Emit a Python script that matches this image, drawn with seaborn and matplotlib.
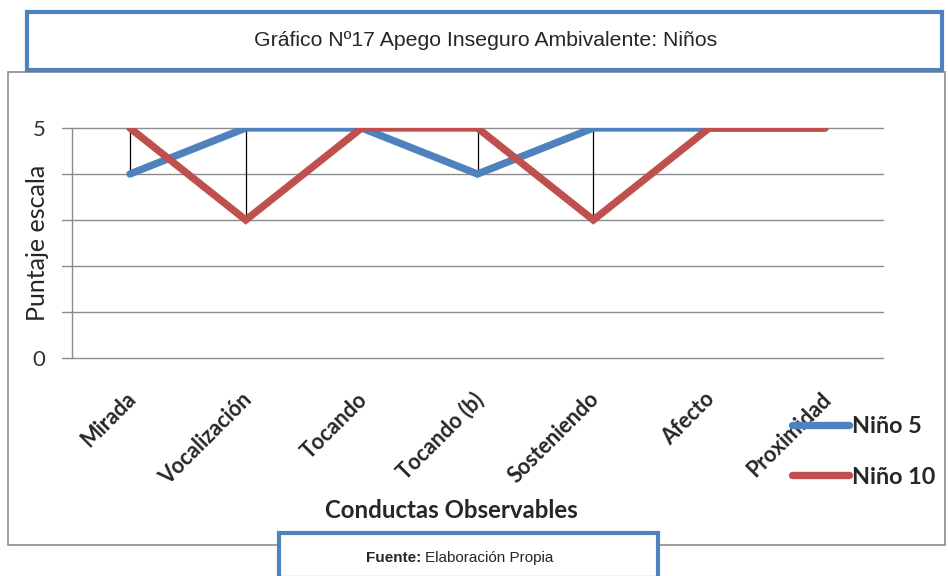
import numpy as np
import pandas as pd
import matplotlib
matplotlib.use("Agg")
import matplotlib.pyplot as plt
import matplotlib.transforms as mtransforms
from matplotlib.patches import Rectangle
from matplotlib.lines import Line2D
import seaborn as sns

# data
categorias = ["Mirada", "Vocalización", "Tocando", "Tocando (b)", "Sosteniendo", "Afecto", "Proximidad"]
nino5 = [4, 5, 5, 4, 5, 5, 5]
nino10 = [5, 3, 5, 5, 3, 5, 5]
series = ["Niño 5", "Niño 10"]
colores = ["#4F81BD", "#C0504D"]
yticks = [0, 1, 2, 3, 4, 5]
ytick_labels = ["0", "", "", "", "", "5"]

W, H = 948, 576

sns.set_style("white")
plt.rcParams["font.family"] = ["Lato", "DejaVu Sans"]

df = pd.DataFrame({
    "pos": list(range(len(categorias))) * 2,
    "valor": nino5 + nino10,
    "serie": [series[0]] * len(categorias) + [series[1]] * len(categorias),
})

fig = plt.figure(figsize=(W / 100, H / 100), dpi=100)


def fx(px):
    return px / W


def fy(py):
    return 1 - py / H


# plot area in pixel coordinates: x 72..883, y 128..358
ax = fig.add_axes([fx(72), fy(358), fx(883) - fx(72), fy(128) - fy(358)])

# high-low lines between the two series
lo = np.minimum(nino5, nino10)
hi = np.maximum(nino5, nino10)
ax.vlines(range(len(categorias)), lo, hi, color="black", linewidth=0.9, zorder=2)

sns.lineplot(data=df, x="pos", y="valor", hue="serie", palette=colores,
             linewidth=5.3, legend=False, ax=ax, zorder=3)
for ln in ax.get_lines():
    ln.set_solid_capstyle("round")
    ln.set_solid_joinstyle("miter")

ax.set_xlim(-0.5, len(categorias) - 0.5)
ax.set_ylim(0, 5)
ax.set_yticks(yticks)
ax.set_yticklabels(ytick_labels, fontsize=16, color="#333333")
for y in yticks:
    ax.plot([-0.5 - 10 / 116, len(categorias) - 0.5], [y, y], color="#8c8c8c",
            linewidth=1.0, zorder=1, clip_on=False)
ax.tick_params(axis="y", length=0, pad=19)

for s in ["top", "right", "bottom"]:
    ax.spines[s].set_visible(False)
ax.spines["left"].set_color("#8c8c8c")
ax.spines["left"].set_linewidth(1.0)

ax.set_xticks(range(len(categorias)))
ax.set_xticklabels(categorias, rotation=45, ha="right", va="top",
                   rotation_mode="anchor", fontsize=15.5, fontweight="bold")
ax.tick_params(axis="x", length=0, pad=22)
offset = mtransforms.ScaledTranslation(-5 / 100, 0, fig.dpi_scale_trans)
for lbl in ax.get_xticklabels():
    lbl.set_transform(lbl.get_transform() + offset)

ax.set_xlabel("Conductas Observables", fontsize=17.3, fontweight="bold", va="center")
ax.xaxis.set_label_coords((451 - 72) / 811, (358 - 511) / 230)
ax.set_ylabel("Puntaje escala", fontsize=18)
ax.yaxis.set_label_coords((38 - 72) / 811, (358 - 243) / 230)
ax.yaxis.label.set_va("center")

# legend
handles = [Line2D([0], [0], color=c, linewidth=5.3, solid_capstyle="round") for c in colores]
leg = fig.legend(handles, series, loc="upper left",
                 bbox_to_anchor=(fx(792), fy(416)), frameon=False,
                 prop={"family": ["Lato", "DejaVu Sans"], "weight": "bold", "size": 16.8},
                 handlelength=2.45, handletextpad=0.12, labelspacing=1.27,
                 borderpad=0, borderaxespad=0)

# outer chart border
fig.add_artist(Rectangle((fx(8), fy(545)), fx(945) - fx(8), fy(72) - fy(545),
                         transform=fig.transFigure, fill=False,
                         edgecolor="#8c8c8c", linewidth=1.2, zorder=0))

# title box
fig.add_artist(Rectangle((fx(27), fy(70)), fx(942) - fx(27), fy(12) - fy(70),
                         transform=fig.transFigure, facecolor="white",
                         edgecolor="#4F81BD", linewidth=3, zorder=5))
fig.text(fx(486), fy(40), "Gráfico Nº17 Apego Inseguro Ambivalente: Niños",
         ha="center", va="center", fontsize=15.3,
         family=["Liberation Sans", "DejaVu Sans"], zorder=6)

# source box
fig.add_artist(Rectangle((fx(279), fy(578)), fx(658) - fx(279), fy(533) - fy(578),
                         transform=fig.transFigure, facecolor="white",
                         edgecolor="#4F81BD", linewidth=3, zorder=5, clip_on=False))
fig.text(fx(421), fy(558), "Fuente:", ha="right", va="center", fontsize=11,
         fontweight="bold", family=["Liberation Sans", "DejaVu Sans"], zorder=6)
fig.text(fx(425), fy(558), "Elaboración Propia", ha="left", va="center", fontsize=11,
         family=["Liberation Sans", "DejaVu Sans"], zorder=6)

fig.savefig("out.png", dpi=100)
